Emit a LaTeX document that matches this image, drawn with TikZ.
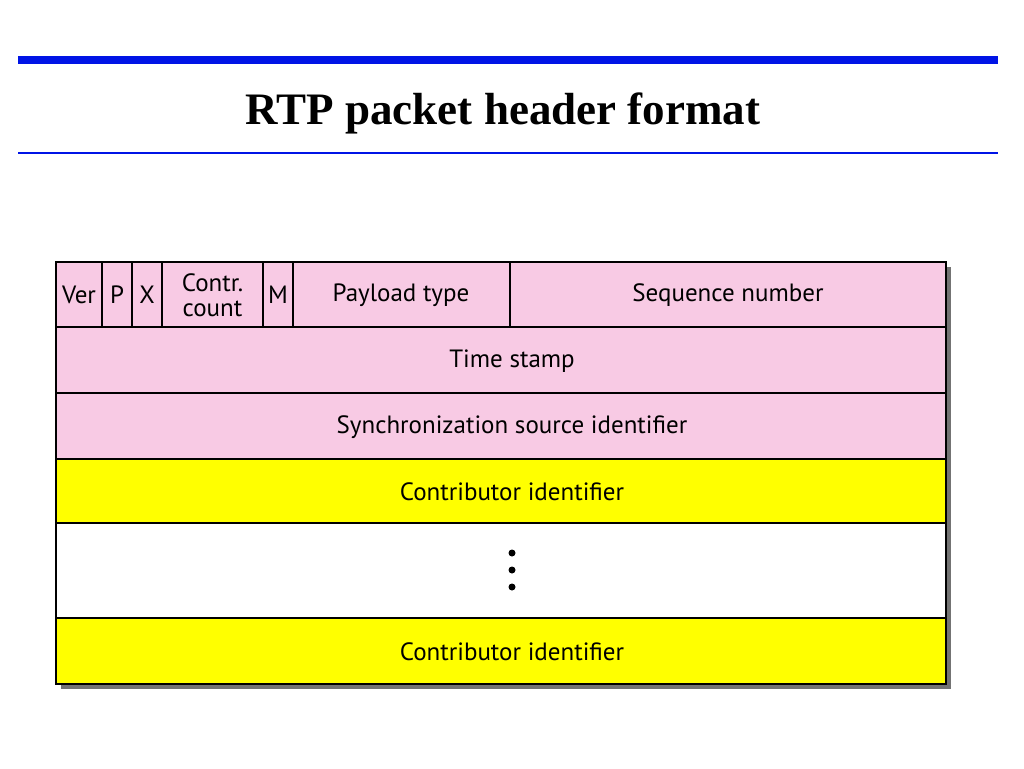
\documentclass[tikz,border=0pt]{standalone}
\usepackage{fontspec}
\setmainfont{PT Sans}
\newfontfamily\titlefont{Liberation Serif}
\begin{document}
\begin{tikzpicture}[x=1pt,y=-1pt]
\definecolor{pk}{RGB}{248,202,228}
\definecolor{yl}{RGB}{255,255,0}
\definecolor{bl}{RGB}{0,20,230}
\tikzset{cell/.style={draw=black,line width=1.2pt},lbl/.style={font=\fontsize{25}{25}\selectfont,inner sep=0pt,align=center}}
\useasboundingbox (0,0) rectangle (1024,768);
\fill[white] (0,0) rectangle (1024,768);
\draw[bl,line width=7pt] (18,60) -- (998,60);
\draw[bl,line width=1.6pt] (18,153) -- (998,153);
\node (title) at (503,113) {\titlefont\bfseries\fontsize{45}{48}\selectfont RTP packet header format};
% shadow
\fill[black!55] (61,267) rectangle (951,689);
\fill[white] (56,262) rectangle (946,684);
\fill[pk] (56,262) rectangle (946,459);
\fill[yl] (56,459) rectangle (946,523);
\fill[yl] (56,618) rectangle (946,684);
\foreach \a/\b in {56/102,102/132,132/162,162/263,263/293,293/510,510/946}
  \draw[cell] (\a,262) rectangle (\b,327);
\draw[cell] (56,327) rectangle (946,393);
\draw[cell] (56,393) rectangle (946,459);
\draw[cell] (56,459) rectangle (946,523);
\draw[cell] (56,523) rectangle (946,618);
\draw[cell] (56,618) rectangle (946,684);
\node[lbl] (ver) at (79,295) {Ver};
\node[lbl] (p) at (117,295) {P};
\node[lbl] (x) at (147,295) {X};
\node[lbl] (cc) at (212.5,295) {Contr.\\count};
\node[lbl] (m) at (278,295) {M};
\node[lbl] (pt) at (401,295) {Payload type};
\node[lbl] (sn) at (728,295) {Sequence number};
\node[lbl] (ts) at (512,361) {Time stamp};
\node[lbl] (ssrc) at (512,427) {Synchronization source identifier};
\node[lbl] (c1) at (512,492) {Contributor identifier};
\node[lbl] (c2) at (512,652) {Contributor identifier};
\foreach \yy in {553,570,587} \fill (512,\yy) circle (3.5);
\end{tikzpicture}
\end{document}
